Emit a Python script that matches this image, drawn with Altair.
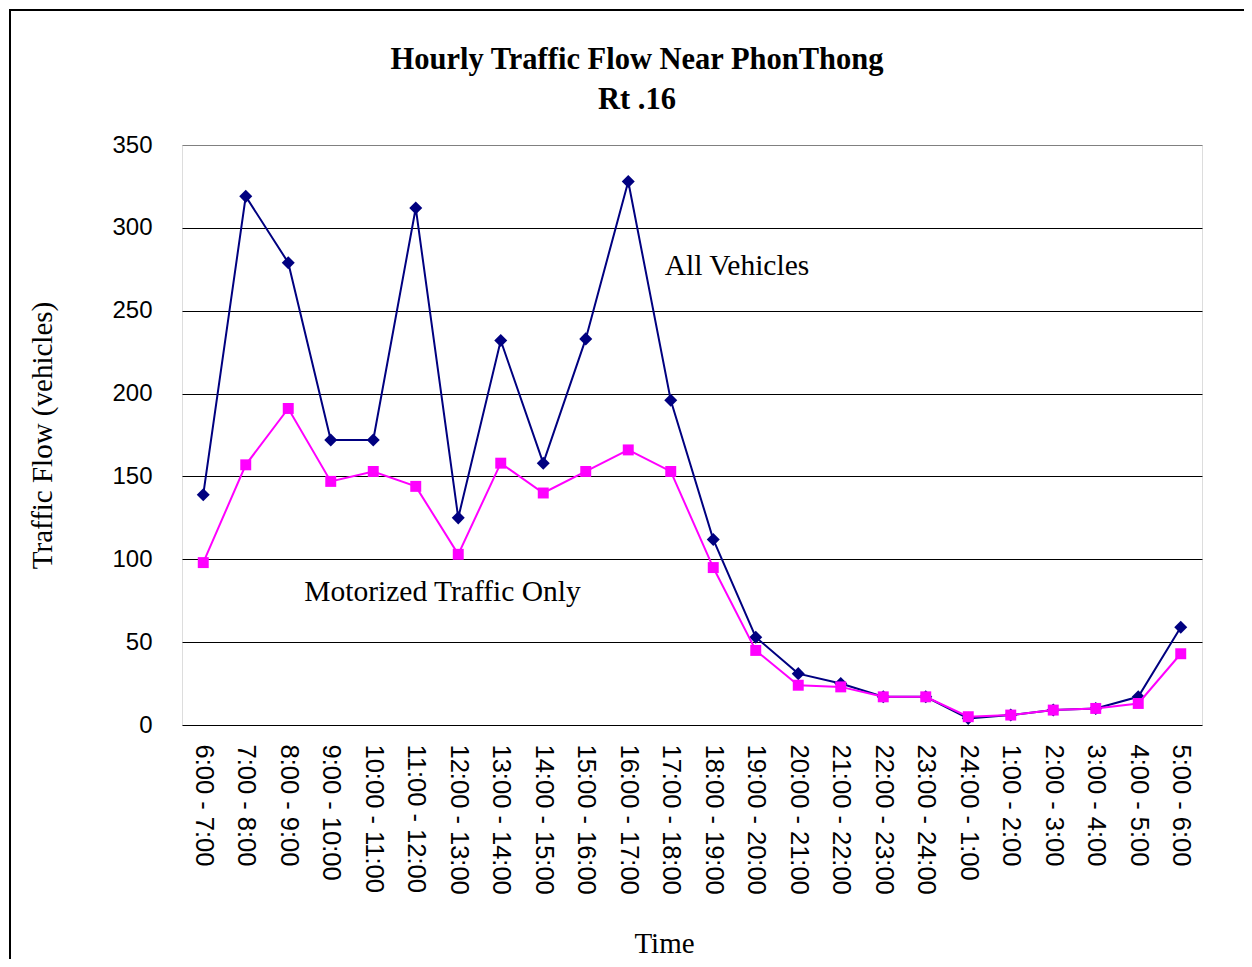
import altair as alt
import pandas as pd

hours = ["6:00 - 7:00", "7:00 - 8:00", "8:00 - 9:00", "9:00 - 10:00", "10:00 - 11:00",
         "11:00 - 12:00", "12:00 - 13:00", "13:00 - 14:00", "14:00 - 15:00", "15:00 - 16:00",
         "16:00 - 17:00", "17:00 - 18:00", "18:00 - 19:00", "19:00 - 20:00", "20:00 - 21:00",
         "21:00 - 22:00", "22:00 - 23:00", "23:00 - 24:00", "24:00 - 1:00", "1:00 - 2:00",
         "2:00 - 3:00", "3:00 - 4:00", "4:00 - 5:00", "5:00 - 6:00"]
all_vehicles = [139, 319, 279, 172, 172, 312, 125, 232, 158, 233, 328, 196,
                112, 53, 31, 25, 17, 17, 4, 6, 9, 10, 17, 59]
motorized = [98, 157, 191, 147, 153, 144, 103, 158, 140, 153, 166, 153,
             95, 45, 24, 23, 17, 17, 5, 6, 9, 10, 13, 43]
series_names = ["All Vehicles", "Motorized Traffic Only"]
series_colors = ["#000080", "#FF00FF"]
series_shapes = ["diamond", "square"]
y_ticks = [0, 50, 100, 150, 200, 250, 300, 350]

df_all = pd.DataFrame({"Time": hours, "Flow": all_vehicles, "Series": series_names[0]})
df_mot = pd.DataFrame({"Time": hours, "Flow": motorized, "Series": series_names[1]})

x_enc = alt.X("Time:N", sort=hours,
              scale=alt.Scale(type="point", padding=0.5),
              axis=alt.Axis(title="Time", labelAngle=90, labelAlign="left",
                            labelBaseline="middle", labelPadding=19, labelFontSize=25.5,
                            labelFont="Liberation Sans", labelColor="black",
                            ticks=False, domain=False, grid=False,
                            titleFont="Liberation Serif", titleFontSize=29,
                            titleFontWeight="normal", titleColor="black",
                            titleX=482, titleY=218, titleBaseline="middle",
                            titleAlign="center", labelOverlap=False))
y_enc = alt.Y("Flow:Q",
              scale=alt.Scale(domain=[0, 350], nice=False),
              axis=alt.Axis(title="Traffic Flow (vehicles)", values=y_ticks,
                            labelFontSize=24, labelFont="Liberation Sans",
                            labelColor="black", labelPadding=30, ticks=False,
                            domain=False, grid=True,
                            gridColor={"condition": {"test": "datum.value === 350",
                                                     "value": "#808080"},
                                       "value": "black"},
                            gridWidth=1, gridOpacity=1,
                            titleFont="Liberation Serif", titleFontSize=29,
                            titleFontWeight="normal", titleColor="black",
                            titleX=-140, titleY=290, titleAlign="center",
                            titleBaseline="middle", titleAngle=270))


def series_layers(df, color, shape, size):
    base = alt.Chart(df).encode(x=x_enc, y=y_enc)
    line = base.mark_line(color=color, strokeWidth=2)
    pts = base.mark_point(shape=shape, filled=True, color=color, size=size, opacity=1)
    return [line, pts]


frame = alt.Chart(pd.DataFrame({"a": [0]})).mark_rect(
    fillOpacity=0, stroke="black", strokeWidth=2, clip=False
).encode(x=alt.value(-172), x2=alt.value(1200), y=alt.value(-135), y2=alt.value(1000))

ann = pd.DataFrame({
    "Time": ["17:00 - 18:00", "8:00 - 9:00"],
    "Flow": [277, 80],
    "label": series_names,
})
ann_all = alt.Chart(ann.iloc[[0]]).mark_text(
    align="left", baseline="middle", font="Liberation Serif", fontSize=29.5,
    color="black", dx=-6).encode(x=alt.X("Time:N", sort=hours), y="Flow:Q", text="label:N")
ann_mot = alt.Chart(ann.iloc[[1]]).mark_text(
    align="left", baseline="middle", font="Liberation Serif", fontSize=29.5,
    color="black", dx=16).encode(x=alt.X("Time:N", sort=hours), y="Flow:Q", text="label:N")

layers = (series_layers(df_all, series_colors[0], series_shapes[0], 170)
          + series_layers(df_mot, series_colors[1], series_shapes[1], 120)
          + [ann_all, ann_mot, frame])

chart = alt.layer(*layers).properties(
    width=1020, height=580,
    autosize=alt.AutoSizeParams(type="none"),
    padding={"left": 174, "top": 137, "right": 42, "bottom": 234},
    title=alt.TitleParams(
        text=["Hourly Traffic Flow Near PhonThong", "Rt .16"],
        font="Liberation Serif", fontSize=30.5, fontWeight="bold", color="black",
        anchor="middle", frame="group", baseline="top", dx=-55, offset=-106,
        lineHeight=40),
).configure_view(stroke="#808080", strokeWidth=2).configure(background="white")

chart.save("out.html", embed_options={"renderer": "svg", "actions": False})
